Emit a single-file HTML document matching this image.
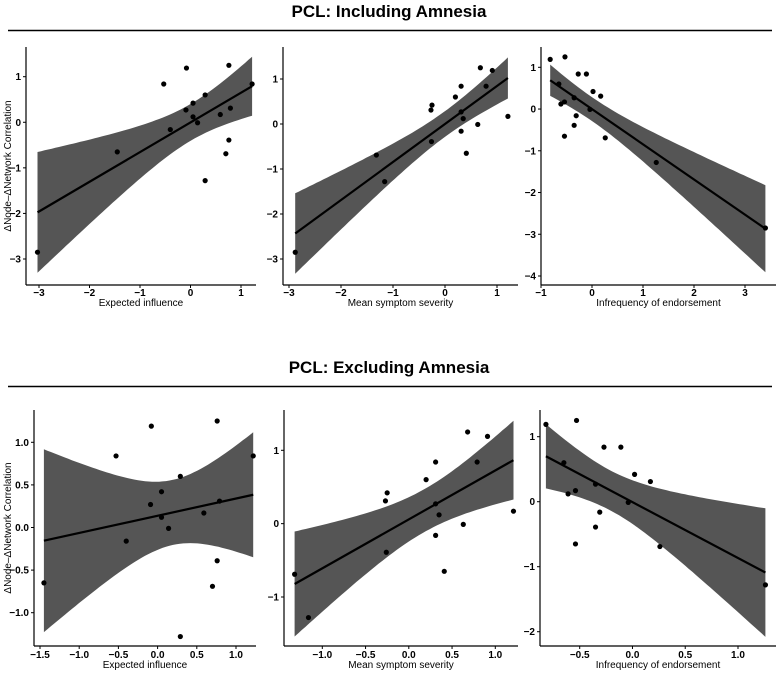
<!DOCTYPE html>
<html><head><meta charset="utf-8"><style>
body{margin:0;background:#fff;}
svg{display:block;font-family:"Liberation Sans",Arial,sans-serif;}
</style></head><body>
<svg id="c" width="778" height="673" viewBox="0 0 778 673">
<text x="389" y="17" text-anchor="middle" font-size="17" font-weight="bold">PCL: Including Amnesia</text>
<line x1="8" y1="30.5" x2="772" y2="30.5" stroke="#000" stroke-width="1.5"/>
<text x="389" y="373" text-anchor="middle" font-size="17" font-weight="bold">PCL: Excluding Amnesia</text>
<line x1="8" y1="386.5" x2="772" y2="386.5" stroke="#000" stroke-width="1.5"/>
</svg>
<script>
// Shared outcome (ΔNode–ΔNetwork correlation), first value is the amnesia item
const yInfl = [-2.85,-0.65,0.84,1.19,-0.16,0.27,0.42,0.12,-0.01,0.60,-1.28,0.17,-0.69,1.25,-0.39,0.31,0.84];
const xInfl = [-3.03,-1.45,-0.53,-0.08,-0.40,-0.09,0.05,0.05,0.14,0.29,0.29,0.59,0.70,0.76,0.76,0.79,1.22];
const ySev = [-2.85,-0.69,-1.28,0.31,0.42,-0.39,0.60,0.84,0.27,-0.16,0.12,-0.65,-0.01,1.25,0.84,1.19,0.17];
const xSev = [-2.88,-1.32,-1.16,-0.27,-0.25,-0.26,0.20,0.31,0.31,0.31,0.35,0.41,0.63,0.68,0.79,0.91,1.21];
const yInf = [-2.85,1.19,1.25,0.60,0.12,0.17,-0.65,0.27,-0.39,-0.16,0.84,0.84,-0.01,0.42,0.31,-0.69,-1.28];
const xInf = [3.40,-0.82,-0.53,-0.65,-0.61,-0.54,-0.54,-0.35,-0.35,-0.31,-0.27,-0.11,-0.04,0.02,0.17,0.26,1.26];
const xLabels = ["Expected influence","Mean symptom severity","Infrequency of endorsement"];
const ticksTopX = [[-3,-2,-1,0,1],[-3,-2,-1,0,1],[-1,0,1,2,3]];
const ticksTopY = [[-3,-2,-1,0,1],[-3,-2,-1,0,1],[-4,-3,-2,-1,0,1]];
const ticksBotX = [[-1.5,-1.0,-0.5,0.0,0.5,1.0],[-1.0,-0.5,0.0,0.5,1.0],[-0.5,0.0,0.5,1.0]];
const ticksBotY = [[-1.0,-0.5,0.0,0.5,1.0],[-1,0,1],[-2,-1,0,1]];

const svg=document.getElementById('c');
const NS='http://www.w3.org/2000/svg';
function mk(tag,attrs,parent){const e=document.createElementNS(NS,tag);for(const k in attrs)e.setAttribute(k,attrs[k]);(parent||svg).appendChild(e);return e;}
function lin(v0,p0,v1,p1){return v=>p0+(v-v0)*(p1-p0)/(v1-v0);}

const panels=[
 {xs:xInfl,ys:yInfl,lab:0,tx:ticksTopX[0],ty:ticksTopY[0],ax:26,rx:256,top:47,bot:285,xc:[-3,39,1,241],yc:[1,76.7,-3,259],dpx:0,dpy:0,t:2.131,tl:11,tt:21,name:'incl-expected-influence',ytitle:true},
 {xs:xSev,ys:ySev,lab:1,tx:ticksTopX[1],ty:ticksTopY[1],ax:283,rx:518,top:47,bot:285,xc:[-3,289,1,497],yc:[1,79,-3,259],dpx:0,dpy:0,t:2.131,tl:11,tt:21,name:'incl-mean-severity'},
 {xs:xInf,ys:yInf,lab:2,tx:ticksTopX[2],ty:ticksTopY[2],ax:541,rx:776,top:47,bot:285,xc:[-1,541,3,745],yc:[1,67.3,-4,276],dpx:0,dpy:0,t:2.131,tl:11,tt:21,name:'incl-infrequency'},
 {xs:xInfl.slice(1),ys:yInfl.slice(1),lab:0,tx:ticksBotX[0],ty:ticksBotY[0],ax:34,rx:256,top:410,bot:646,xc:[-1.5,40,1,236],yc:[1,442.3,-1,612.7],dpx:1,dpy:1,t:2.145,tl:12,tt:22,name:'excl-expected-influence',ytitle:true},
 {xs:xSev.slice(1),ys:ySev.slice(1),lab:1,tx:ticksBotX[1],ty:ticksBotY[1],ax:284,rx:518,top:410,bot:646,xc:[-1,322.3,1,495.3],yc:[1,450.3,-1,597],dpx:1,dpy:0,t:2.145,tl:12,tt:22,name:'excl-mean-severity'},
 {xs:xInf.slice(1),ys:yInf.slice(1),lab:2,tx:ticksBotX[2],ty:ticksBotY[2],ax:540,rx:776,top:410,bot:646,xc:[-0.5,579.7,1,738],yc:[1,436.7,-2,631.7],dpx:1,dpy:0,t:2.145,tl:12,tt:22,name:'excl-infrequency'}
];

panels.forEach((P)=>{
 const g=mk('g',{});
 
 
 const X=lin(...P.xc), Y=lin(...P.yc);
 const n=P.xs.length;
 const mx=P.xs.reduce((a,b)=>a+b,0)/n, my=P.ys.reduce((a,b)=>a+b,0)/n;
 let sxx=0,sxy=0;for(let i=0;i<n;i++){sxx+=(P.xs[i]-mx)**2;sxy+=(P.xs[i]-mx)*(P.ys[i]-my);}
 const b=sxy/sxx,a=my-b*mx;
 let sse=0;for(let i=0;i<n;i++)sse+=(P.ys[i]-a-b*P.xs[i])**2;
 const s=Math.sqrt(sse/(n-2));
 const xmin=Math.min(...P.xs),xmax=Math.max(...P.xs);
 const up=[],lo=[];
 for(let k=0;k<=60;k++){const xv=xmin+(xmax-xmin)*k/60;const f=a+b*xv;const se=s*Math.sqrt(1/n+(xv-mx)**2/sxx);
  up.push([X(xv),Y(f+P.t*se)]);lo.push([X(xv),Y(f-P.t*se)]);}
 const pts=up.concat(lo.reverse()).map(p=>p[0].toFixed(1)+','+p[1].toFixed(1)).join(' ');
 const band=mk('polygon',{points:pts,fill:'#555555'},g);
 
 
 const ln=mk('line',{x1:X(xmin),y1:Y(a+b*xmin),x2:X(xmax),y2:Y(a+b*xmax),stroke:'#000','stroke-width':2.2},g);
 
 
 for(let i=0;i<n;i++){
  const c=mk('circle',{cx:X(P.xs[i]),cy:Y(P.ys[i]),r:2.6,fill:'#000'},g);
  
  
 }
 const xa=mk('line',{x1:P.ax,y1:P.bot,x2:P.rx,y2:P.bot,stroke:'#000','stroke-width':1.2},g);
 
 
 const ya=mk('line',{x1:P.ax,y1:P.top,x2:P.ax,y2:P.bot,stroke:'#000','stroke-width':1.2},g);
 
 
 P.tx.forEach(v=>{const px=X(v);
  mk('line',{x1:px,y1:P.bot,x2:px,y2:P.bot+3,stroke:'#000'},g);
  const t=mk('text',{x:px,y:P.bot+P.tl,'text-anchor':'middle','font-size':10,'font-weight':'bold'},g);
  t.textContent=(P.dpx?v.toFixed(1):String(v)).replace('-','\u2212');
  
  
 });
 P.ty.forEach(v=>{const py=Y(v);
  mk('line',{x1:P.ax-3,y1:py,x2:P.ax,y2:py,stroke:'#000'},g);
  const t=mk('text',{x:P.ax-5,y:py+3.5,'text-anchor':'end','font-size':10,'font-weight':'bold'},g);
  t.textContent=(P.dpy?v.toFixed(1):String(v)).replace('-','\u2212');
  
  
 });
 const xt=mk('text',{x:(P.ax+P.rx)/2,y:P.bot+P.tt,'text-anchor':'middle','font-size':10},g);
 xt.textContent=xLabels[P.lab];
 
 
 if(P.ytitle){
  const cy=(P.top+P.bot)/2;
  const yt=mk('text',{x:0,y:0,'text-anchor':'middle','font-size':10,transform:`translate(11,${cy}) rotate(-90)`},g);
  yt.textContent='\u0394Node\u2013\u0394Network Correlation';
  
  
 }
});
</script>
</body></html>
